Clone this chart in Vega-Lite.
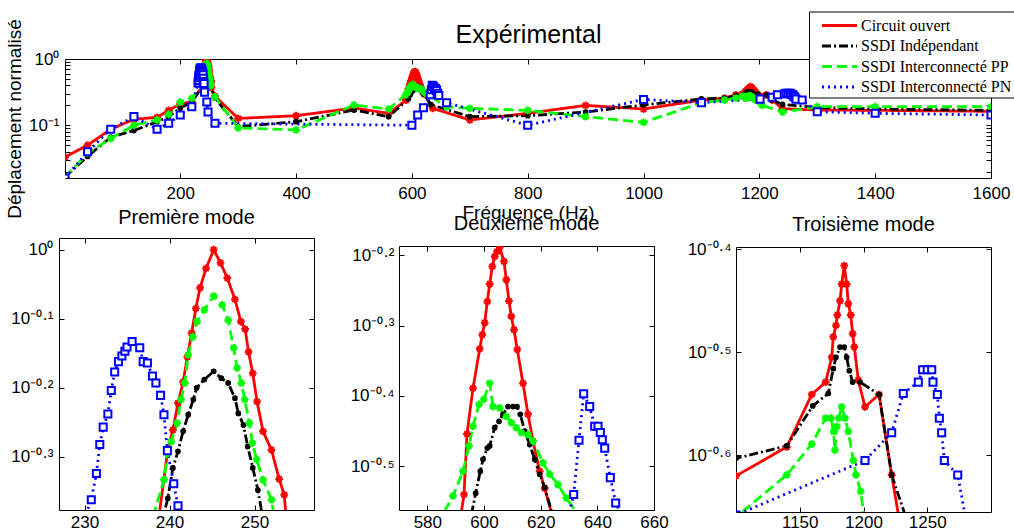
{
  "$schema": "https://vega.github.io/schema/vega-lite/v6.json",
  "background": "white",
  "padding": {"left": 4, "top": 10, "right": 0, "bottom": 0},
  "config": {
    "font": "Liberation Sans",
    "view": {"stroke": "#000000", "strokeWidth": 1},
    "axis": {"domain": false, "grid": false, "tickColor": "#000000", "tickSize": 5, "tickWidth": 1, "offset": -5, "labelFont": "Liberation Sans", "labelFontSize": 17, "labelColor": "#000000", "labelFlush": false, "labelOverlap": false, "titleFont": "Liberation Sans", "titleFontSize": 19, "titleFontWeight": "normal", "titleColor": "#000000"},
    "title": {"font": "Liberation Sans", "fontSize": 20, "fontWeight": "normal", "color": "#000000", "anchor": "middle"}
  },
  "datasets": {
    "d": [
      {"series": "Circuit ouvert", "freq": 1, "depl": 0.0331},
      {"series": "Circuit ouvert", "freq": 40, "depl": 0.0501},
      {"series": "Circuit ouvert", "freq": 80, "depl": 0.0871},
      {"series": "Circuit ouvert", "freq": 120, "depl": 0.123},
      {"series": "Circuit ouvert", "freq": 160, "depl": 0.1318},
      {"series": "Circuit ouvert", "freq": 180, "depl": 0.1679},
      {"series": "Circuit ouvert", "freq": 200, "depl": 0.2089},
      {"series": "Circuit ouvert", "freq": 220, "depl": 0.227},
      {"series": "Circuit ouvert", "freq": 238.5, "depl": 0.389},
      {"series": "Circuit ouvert", "freq": 239.8, "depl": 0.5129},
      {"series": "Circuit ouvert", "freq": 240.4, "depl": 0.5483},
      {"series": "Circuit ouvert", "freq": 241.0, "depl": 0.5998},
      {"series": "Circuit ouvert", "freq": 241.6, "depl": 0.6427},
      {"series": "Circuit ouvert", "freq": 242.1, "depl": 0.6999},
      {"series": "Circuit ouvert", "freq": 242.6, "depl": 0.7568},
      {"series": "Circuit ouvert", "freq": 243.1, "depl": 0.8222},
      {"series": "Circuit ouvert", "freq": 243.6, "depl": 0.881},
      {"series": "Circuit ouvert", "freq": 244.3, "depl": 0.9397},
      {"series": "Circuit ouvert", "freq": 245.2, "depl": 1.0},
      {"series": "Circuit ouvert", "freq": 246.0, "depl": 0.9572},
      {"series": "Circuit ouvert", "freq": 246.8, "depl": 0.9099},
      {"series": "Circuit ouvert", "freq": 247.7, "depl": 0.8472},
      {"series": "Circuit ouvert", "freq": 248.4, "depl": 0.787},
      {"series": "Circuit ouvert", "freq": 248.9, "depl": 0.7674},
      {"series": "Circuit ouvert", "freq": 249.3, "depl": 0.7112},
      {"series": "Circuit ouvert", "freq": 249.8, "depl": 0.6622},
      {"series": "Circuit ouvert", "freq": 250.3, "depl": 0.6026},
      {"series": "Circuit ouvert", "freq": 251.0, "depl": 0.5458},
      {"series": "Circuit ouvert", "freq": 252.0, "depl": 0.5129},
      {"series": "Circuit ouvert", "freq": 252.9, "depl": 0.4656},
      {"series": "Circuit ouvert", "freq": 253.5, "depl": 0.4416},
      {"series": "Circuit ouvert", "freq": 254.0, "depl": 0.3715},
      {"series": "Circuit ouvert", "freq": 260, "depl": 0.2754},
      {"series": "Circuit ouvert", "freq": 300, "depl": 0.1268},
      {"series": "Circuit ouvert", "freq": 400, "depl": 0.1393},
      {"series": "Circuit ouvert", "freq": 500, "depl": 0.182},
      {"series": "Circuit ouvert", "freq": 560, "depl": 0.1514},
      {"series": "Circuit ouvert", "freq": 590, "depl": 0.2399},
      {"series": "Circuit ouvert", "freq": 592.94, "depl": 0.2884},
      {"series": "Circuit ouvert", "freq": 594.0, "depl": 0.3516},
      {"series": "Circuit ouvert", "freq": 596.12, "depl": 0.4083},
      {"series": "Circuit ouvert", "freq": 598.48, "depl": 0.4645},
      {"series": "Circuit ouvert", "freq": 599.4, "depl": 0.4864},
      {"series": "Circuit ouvert", "freq": 600.25, "depl": 0.5058},
      {"series": "Circuit ouvert", "freq": 601.16, "depl": 0.542},
      {"series": "Circuit ouvert", "freq": 602.01, "depl": 0.5741},
      {"series": "Circuit ouvert", "freq": 602.93, "depl": 0.6081},
      {"series": "Circuit ouvert", "freq": 603.78, "depl": 0.6281},
      {"series": "Circuit ouvert", "freq": 604.59, "depl": 0.6383},
      {"series": "Circuit ouvert", "freq": 605.54, "depl": 0.6471},
      {"series": "Circuit ouvert", "freq": 607.06, "depl": 0.618},
      {"series": "Circuit ouvert", "freq": 607.87, "depl": 0.5821},
      {"series": "Circuit ouvert", "freq": 608.82, "depl": 0.5433},
      {"series": "Circuit ouvert", "freq": 609.64, "depl": 0.5164},
      {"series": "Circuit ouvert", "freq": 610.59, "depl": 0.4943},
      {"series": "Circuit ouvert", "freq": 611.75, "depl": 0.4634},
      {"series": "Circuit ouvert", "freq": 613.76, "depl": 0.415},
      {"series": "Circuit ouvert", "freq": 615.53, "depl": 0.375},
      {"series": "Circuit ouvert", "freq": 617.29, "depl": 0.3436},
      {"series": "Circuit ouvert", "freq": 619.66, "depl": 0.3112},
      {"series": "Circuit ouvert", "freq": 621.42, "depl": 0.2944},
      {"series": "Circuit ouvert", "freq": 636, "depl": 0.1799},
      {"series": "Circuit ouvert", "freq": 700, "depl": 0.1202},
      {"series": "Circuit ouvert", "freq": 800, "depl": 0.1514},
      {"series": "Circuit ouvert", "freq": 900, "depl": 0.1995},
      {"series": "Circuit ouvert", "freq": 1000, "depl": 0.1758},
      {"series": "Circuit ouvert", "freq": 1100, "depl": 0.2399},
      {"series": "Circuit ouvert", "freq": 1139.8, "depl": 0.2559},
      {"series": "Circuit ouvert", "freq": 1159.4, "depl": 0.2877},
      {"series": "Circuit ouvert", "freq": 1170.3, "depl": 0.2958},
      {"series": "Circuit ouvert", "freq": 1175.1, "depl": 0.3126},
      {"series": "Circuit ouvert", "freq": 1176.3, "depl": 0.3273},
      {"series": "Circuit ouvert", "freq": 1178.4, "depl": 0.3357},
      {"series": "Circuit ouvert", "freq": 1179.5, "depl": 0.3436},
      {"series": "Circuit ouvert", "freq": 1181.6, "depl": 0.3548},
      {"series": "Circuit ouvert", "freq": 1182.9, "depl": 0.3681},
      {"series": "Circuit ouvert", "freq": 1184.9, "depl": 0.3837},
      {"series": "Circuit ouvert", "freq": 1186.8, "depl": 0.3681},
      {"series": "Circuit ouvert", "freq": 1188.1, "depl": 0.3524},
      {"series": "Circuit ouvert", "freq": 1190.0, "depl": 0.3436},
      {"series": "Circuit ouvert", "freq": 1191.5, "depl": 0.3296},
      {"series": "Circuit ouvert", "freq": 1192.8, "depl": 0.3199},
      {"series": "Circuit ouvert", "freq": 1195.9, "depl": 0.2972},
      {"series": "Circuit ouvert", "freq": 1201.2, "depl": 0.2799},
      {"series": "Circuit ouvert", "freq": 1212.2, "depl": 0.2877},
      {"series": "Circuit ouvert", "freq": 1222.1, "depl": 0.2404},
      {"series": "Circuit ouvert", "freq": 1240, "depl": 0.1778},
      {"series": "Circuit ouvert", "freq": 1300, "depl": 0.1698},
      {"series": "Circuit ouvert", "freq": 1400, "depl": 0.1679},
      {"series": "Circuit ouvert", "freq": 1600, "depl": 0.1622},

      {"series": "SSDI Indépendant", "freq": 1, "depl": 0.0166},
      {"series": "SSDI Indépendant", "freq": 40, "depl": 0.0339},
      {"series": "SSDI Indépendant", "freq": 80, "depl": 0.0661},
      {"series": "SSDI Indépendant", "freq": 120, "depl": 0.0832},
      {"series": "SSDI Indépendant", "freq": 160, "depl": 0.113},
      {"series": "SSDI Indépendant", "freq": 180, "depl": 0.1349},
      {"series": "SSDI Indépendant", "freq": 200, "depl": 0.182},
      {"series": "SSDI Indépendant", "freq": 220, "depl": 0.2239},
      {"series": "SSDI Indépendant", "freq": 239.0, "depl": 0.3981},
      {"series": "SSDI Indépendant", "freq": 239.8, "depl": 0.4365},
      {"series": "SSDI Indépendant", "freq": 240.4, "depl": 0.4831},
      {"series": "SSDI Indépendant", "freq": 241.0, "depl": 0.5105},
      {"series": "SSDI Indépendant", "freq": 241.6, "depl": 0.5458},
      {"series": "SSDI Indépendant", "freq": 242.2, "depl": 0.5768},
      {"series": "SSDI Indépendant", "freq": 242.8, "depl": 0.6067},
      {"series": "SSDI Indépendant", "freq": 243.2, "depl": 0.631},
      {"series": "SSDI Indépendant", "freq": 244.1, "depl": 0.6486},
      {"series": "SSDI Indépendant", "freq": 245.2, "depl": 0.6668},
      {"series": "SSDI Indépendant", "freq": 246.1, "depl": 0.6516},
      {"series": "SSDI Indépendant", "freq": 246.9, "depl": 0.6412},
      {"series": "SSDI Indépendant", "freq": 247.7, "depl": 0.6095},
      {"series": "SSDI Indépendant", "freq": 248.1, "depl": 0.5794},
      {"series": "SSDI Indépendant", "freq": 248.7, "depl": 0.5572},
      {"series": "SSDI Indépendant", "freq": 249.2, "depl": 0.5188},
      {"series": "SSDI Indépendant", "freq": 249.8, "depl": 0.4831},
      {"series": "SSDI Indépendant", "freq": 250.4, "depl": 0.4487},
      {"series": "SSDI Indépendant", "freq": 251.0, "depl": 0.4074},
      {"series": "SSDI Indépendant", "freq": 260, "depl": 0.257},
      {"series": "SSDI Indépendant", "freq": 300, "depl": 0.0955},
      {"series": "SSDI Indépendant", "freq": 400, "depl": 0.113},
      {"series": "SSDI Indépendant", "freq": 500, "depl": 0.1698},
      {"series": "SSDI Indépendant", "freq": 560, "depl": 0.1349},
      {"series": "SSDI Indépendant", "freq": 594, "depl": 0.2512},
      {"series": "SSDI Indépendant", "freq": 597.06, "depl": 0.2897},
      {"series": "SSDI Indépendant", "freq": 598.69, "depl": 0.3112},
      {"series": "SSDI Indépendant", "freq": 599.65, "depl": 0.3236},
      {"series": "SSDI Indépendant", "freq": 601.16, "depl": 0.3357},
      {"series": "SSDI Indépendant", "freq": 602.01, "depl": 0.3381},
      {"series": "SSDI Indépendant", "freq": 603.78, "depl": 0.3589},
      {"series": "SSDI Indépendant", "freq": 605.3, "depl": 0.3664},
      {"series": "SSDI Indépendant", "freq": 606.71, "depl": 0.375},
      {"series": "SSDI Indépendant", "freq": 608.47, "depl": 0.3846},
      {"series": "SSDI Indépendant", "freq": 610.24, "depl": 0.3846},
      {"series": "SSDI Indépendant", "freq": 611.65, "depl": 0.3846},
      {"series": "SSDI Indépendant", "freq": 612.8, "depl": 0.375},
      {"series": "SSDI Indépendant", "freq": 614.36, "depl": 0.3548},
      {"series": "SSDI Indépendant", "freq": 616.12, "depl": 0.3396},
      {"series": "SSDI Indépendant", "freq": 617.89, "depl": 0.3236},
      {"series": "SSDI Indépendant", "freq": 619.66, "depl": 0.3083},
      {"series": "SSDI Indépendant", "freq": 621.42, "depl": 0.2951},
      {"series": "SSDI Indépendant", "freq": 633, "depl": 0.2042},
      {"series": "SSDI Indépendant", "freq": 700, "depl": 0.1349},
      {"series": "SSDI Indépendant", "freq": 800, "depl": 0.1393},
      {"series": "SSDI Indépendant", "freq": 900, "depl": 0.1585},
      {"series": "SSDI Indépendant", "freq": 1000, "depl": 0.2023},
      {"series": "SSDI Indépendant", "freq": 1100, "depl": 0.2495},
      {"series": "SSDI Indépendant", "freq": 1139.8, "depl": 0.2565},
      {"series": "SSDI Indépendant", "freq": 1160.2, "depl": 0.2805},
      {"series": "SSDI Indépendant", "freq": 1172.4, "depl": 0.2884},
      {"series": "SSDI Indépendant", "freq": 1176.3, "depl": 0.3048},
      {"series": "SSDI Indépendant", "freq": 1178.4, "depl": 0.3126},
      {"series": "SSDI Indépendant", "freq": 1181.6, "depl": 0.3199},
      {"series": "SSDI Indépendant", "freq": 1184.9, "depl": 0.3199},
      {"series": "SSDI Indépendant", "freq": 1186.8, "depl": 0.3126},
      {"series": "SSDI Indépendant", "freq": 1188.9, "depl": 0.3034},
      {"series": "SSDI Indépendant", "freq": 1191.5, "depl": 0.2958},
      {"series": "SSDI Indépendant", "freq": 1197.3, "depl": 0.2958},
      {"series": "SSDI Indépendant", "freq": 1212.2, "depl": 0.2877},
      {"series": "SSDI Indépendant", "freq": 1222.1, "depl": 0.2404},
      {"series": "SSDI Indépendant", "freq": 1240, "depl": 0.2065},
      {"series": "SSDI Indépendant", "freq": 1300, "depl": 0.1862},
      {"series": "SSDI Indépendant", "freq": 1400, "depl": 0.1758},
      {"series": "SSDI Indépendant", "freq": 1600, "depl": 0.1679},

      {"series": "SSDI Interconnecté PP", "freq": 1, "depl": 0.0162},
      {"series": "SSDI Interconnecté PP", "freq": 40, "depl": 0.038},
      {"series": "SSDI Interconnecté PP", "freq": 80, "depl": 0.0631},
      {"series": "SSDI Interconnecté PP", "freq": 120, "depl": 0.1},
      {"series": "SSDI Interconnecté PP", "freq": 160, "depl": 0.1202},
      {"series": "SSDI Interconnecté PP", "freq": 180, "depl": 0.1459},
      {"series": "SSDI Interconnecté PP", "freq": 200, "depl": 0.2239},
      {"series": "SSDI Interconnecté PP", "freq": 220, "depl": 0.2547},
      {"series": "SSDI Interconnecté PP", "freq": 238.0, "depl": 0.4074},
      {"series": "SSDI Interconnecté PP", "freq": 239.35, "depl": 0.4645},
      {"series": "SSDI Interconnecté PP", "freq": 239.8, "depl": 0.507},
      {"series": "SSDI Interconnecté PP", "freq": 240.2, "depl": 0.5272},
      {"series": "SSDI Interconnecté PP", "freq": 240.9, "depl": 0.5611},
      {"series": "SSDI Interconnecté PP", "freq": 241.35, "depl": 0.6067},
      {"series": "SSDI Interconnecté PP", "freq": 241.8, "depl": 0.6412},
      {"series": "SSDI Interconnecté PP", "freq": 242.2, "depl": 0.7047},
      {"series": "SSDI Interconnecté PP", "freq": 242.75, "depl": 0.7482},
      {"series": "SSDI Interconnecté PP", "freq": 243.25, "depl": 0.787},
      {"series": "SSDI Interconnecté PP", "freq": 244.1, "depl": 0.8185},
      {"series": "SSDI Interconnecté PP", "freq": 245.2, "depl": 0.857},
      {"series": "SSDI Interconnecté PP", "freq": 246.2, "depl": 0.8318},
      {"series": "SSDI Interconnecté PP", "freq": 246.9, "depl": 0.7907},
      {"series": "SSDI Interconnecté PP", "freq": 247.55, "depl": 0.7211},
      {"series": "SSDI Interconnecté PP", "freq": 247.95, "depl": 0.6745},
      {"series": "SSDI Interconnecté PP", "freq": 248.45, "depl": 0.6412},
      {"series": "SSDI Interconnecté PP", "freq": 248.85, "depl": 0.6067},
      {"series": "SSDI Interconnecté PP", "freq": 249.4, "depl": 0.5611},
      {"series": "SSDI Interconnecté PP", "freq": 249.75, "depl": 0.5248},
      {"series": "SSDI Interconnecté PP", "freq": 250.25, "depl": 0.4966},
      {"series": "SSDI Interconnecté PP", "freq": 251.0, "depl": 0.4645},
      {"series": "SSDI Interconnecté PP", "freq": 252.0, "depl": 0.4345},
      {"series": "SSDI Interconnecté PP", "freq": 252.5, "depl": 0.3981},
      {"series": "SSDI Interconnecté PP", "freq": 260, "depl": 0.2692},
      {"series": "SSDI Interconnecté PP", "freq": 300, "depl": 0.0912},
      {"series": "SSDI Interconnecté PP", "freq": 400, "depl": 0.0851},
      {"series": "SSDI Interconnecté PP", "freq": 500, "depl": 0.2023},
      {"series": "SSDI Interconnecté PP", "freq": 560, "depl": 0.1758},
      {"series": "SSDI Interconnecté PP", "freq": 589.06, "depl": 0.2871},
      {"series": "SSDI Interconnecté PP", "freq": 592.59, "depl": 0.3112},
      {"series": "SSDI Interconnecté PP", "freq": 594.71, "depl": 0.3381},
      {"series": "SSDI Interconnecté PP", "freq": 596.12, "depl": 0.3606},
      {"series": "SSDI Interconnecté PP", "freq": 598.24, "depl": 0.3873},
      {"series": "SSDI Interconnecté PP", "freq": 599.89, "depl": 0.3936},
      {"series": "SSDI Interconnecté PP", "freq": 602.01, "depl": 0.415},
      {"series": "SSDI Interconnecté PP", "freq": 603.18, "depl": 0.3846},
      {"series": "SSDI Interconnecté PP", "freq": 605.54, "depl": 0.3828},
      {"series": "SSDI Interconnecté PP", "freq": 607.87, "depl": 0.3724},
      {"series": "SSDI Interconnecté PP", "freq": 609.64, "depl": 0.3648},
      {"series": "SSDI Interconnecté PP", "freq": 611.4, "depl": 0.3589},
      {"series": "SSDI Interconnecté PP", "freq": 613.16, "depl": 0.3532},
      {"series": "SSDI Interconnecté PP", "freq": 615.53, "depl": 0.3508},
      {"series": "SSDI Interconnecté PP", "freq": 617.29, "depl": 0.3436},
      {"series": "SSDI Interconnecté PP", "freq": 620.82, "depl": 0.3199},
      {"series": "SSDI Interconnecté PP", "freq": 623.18, "depl": 0.3083},
      {"series": "SSDI Interconnecté PP", "freq": 626.12, "depl": 0.2979},
      {"series": "SSDI Interconnecté PP", "freq": 629.06, "depl": 0.2851},
      {"series": "SSDI Interconnecté PP", "freq": 660, "depl": 0.1905},
      {"series": "SSDI Interconnecté PP", "freq": 700, "depl": 0.1799},
      {"series": "SSDI Interconnecté PP", "freq": 800, "depl": 0.1679},
      {"series": "SSDI Interconnecté PP", "freq": 900, "depl": 0.1349},
      {"series": "SSDI Interconnecté PP", "freq": 1000, "depl": 0.1104},
      {"series": "SSDI Interconnecté PP", "freq": 1100, "depl": 0.2188},
      {"series": "SSDI Interconnecté PP", "freq": 1139.8, "depl": 0.2404},
      {"series": "SSDI Interconnecté PP", "freq": 1159.4, "depl": 0.2576},
      {"series": "SSDI Interconnecté PP", "freq": 1170.3, "depl": 0.2729},
      {"series": "SSDI Interconnecté PP", "freq": 1174.5, "depl": 0.2729},
      {"series": "SSDI Interconnecté PP", "freq": 1176.5, "depl": 0.2649},
      {"series": "SSDI Interconnecté PP", "freq": 1177.6, "depl": 0.2541},
      {"series": "SSDI Interconnecté PP", "freq": 1179.0, "depl": 0.2679},
      {"series": "SSDI Interconnecté PP", "freq": 1180.5, "depl": 0.2729},
      {"series": "SSDI Interconnecté PP", "freq": 1182.9, "depl": 0.2799},
      {"series": "SSDI Interconnecté PP", "freq": 1185.5, "depl": 0.2729},
      {"series": "SSDI Interconnecté PP", "freq": 1188.1, "depl": 0.2649},
      {"series": "SSDI Interconnecté PP", "freq": 1192.0, "depl": 0.2483},
      {"series": "SSDI Interconnecté PP", "freq": 1194.1, "depl": 0.2404},
      {"series": "SSDI Interconnecté PP", "freq": 1197.8, "depl": 0.2317},
      {"series": "SSDI Interconnecté PP", "freq": 1205, "depl": 0.1995},
      {"series": "SSDI Interconnecté PP", "freq": 1240, "depl": 0.1585},
      {"series": "SSDI Interconnecté PP", "freq": 1300, "depl": 0.1905},
      {"series": "SSDI Interconnecté PP", "freq": 1400, "depl": 0.1905},
      {"series": "SSDI Interconnecté PP", "freq": 1600, "depl": 0.1905},

      {"series": "SSDI Interconnecté PN", "freq": 1, "depl": 0.016},
      {"series": "SSDI Interconnecté PN", "freq": 40, "depl": 0.0398},
      {"series": "SSDI Interconnecté PN", "freq": 80, "depl": 0.0871},
      {"series": "SSDI Interconnecté PN", "freq": 120, "depl": 0.1349},
      {"series": "SSDI Interconnecté PN", "freq": 160, "depl": 0.0871},
      {"series": "SSDI Interconnecté PN", "freq": 180, "depl": 0.1072},
      {"series": "SSDI Interconnecté PN", "freq": 200, "depl": 0.1426},
      {"series": "SSDI Interconnecté PN", "freq": 220, "depl": 0.1905},
      {"series": "SSDI Interconnecté PN", "freq": 230.8, "depl": 0.4345},
      {"series": "SSDI Interconnecté PN", "freq": 231.4, "depl": 0.4742},
      {"series": "SSDI Interconnecté PN", "freq": 231.8, "depl": 0.5224},
      {"series": "SSDI Interconnecté PN", "freq": 232.2, "depl": 0.5534},
      {"series": "SSDI Interconnecté PN", "freq": 232.75, "depl": 0.5781},
      {"series": "SSDI Interconnecté PN", "freq": 233.15, "depl": 0.6252},
      {"series": "SSDI Interconnecté PN", "freq": 233.55, "depl": 0.6653},
      {"series": "SSDI Interconnecté PN", "freq": 234.0, "depl": 0.6886},
      {"series": "SSDI Interconnecté PN", "freq": 234.4, "depl": 0.7015},
      {"series": "SSDI Interconnecté PN", "freq": 234.75, "depl": 0.7129},
      {"series": "SSDI Interconnecté PN", "freq": 235.0, "depl": 0.7228},
      {"series": "SSDI Interconnecté PN", "freq": 235.6, "depl": 0.7362},
      {"series": "SSDI Interconnecté PN", "freq": 236.5, "depl": 0.7211},
      {"series": "SSDI Interconnecté PN", "freq": 236.9, "depl": 0.6886},
      {"series": "SSDI Interconnecté PN", "freq": 237.4, "depl": 0.6855},
      {"series": "SSDI Interconnecté PN", "freq": 238.0, "depl": 0.6562},
      {"series": "SSDI Interconnecté PN", "freq": 238.4, "depl": 0.6412},
      {"series": "SSDI Interconnecté PN", "freq": 238.95, "depl": 0.6152},
      {"series": "SSDI Interconnecté PN", "freq": 239.35, "depl": 0.5768},
      {"series": "SSDI Interconnecté PN", "freq": 239.75, "depl": 0.5117},
      {"series": "SSDI Interconnecté PN", "freq": 240.5, "depl": 0.4581},
      {"series": "SSDI Interconnecté PN", "freq": 241.0, "depl": 0.4256},
      {"series": "SSDI Interconnecté PN", "freq": 242, "depl": 0.3162},
      {"series": "SSDI Interconnecté PN", "freq": 246, "depl": 0.2239},
      {"series": "SSDI Interconnecté PN", "freq": 248, "depl": 0.1585},
      {"series": "SSDI Interconnecté PN", "freq": 260, "depl": 0.1072},
      {"series": "SSDI Interconnecté PN", "freq": 600, "depl": 0.1},
      {"series": "SSDI Interconnecté PN", "freq": 610, "depl": 0.1426},
      {"series": "SSDI Interconnecté PN", "freq": 620, "depl": 0.1841},
      {"series": "SSDI Interconnecté PN", "freq": 631.65, "depl": 0.2884},
      {"series": "SSDI Interconnecté PN", "freq": 633.53, "depl": 0.3444},
      {"series": "SSDI Interconnecté PN", "freq": 635.18, "depl": 0.4009},
      {"series": "SSDI Interconnecté PN", "freq": 637.3, "depl": 0.3846},
      {"series": "SSDI Interconnecté PN", "freq": 639.07, "depl": 0.3606},
      {"series": "SSDI Interconnecté PN", "freq": 640.24, "depl": 0.3606},
      {"series": "SSDI Interconnecté PN", "freq": 641.05, "depl": 0.3532},
      {"series": "SSDI Interconnecté PN", "freq": 641.76, "depl": 0.3451},
      {"series": "SSDI Interconnecté PN", "freq": 642.6, "depl": 0.3357},
      {"series": "SSDI Interconnecté PN", "freq": 644.58, "depl": 0.3048},
      {"series": "SSDI Interconnecté PN", "freq": 646.47, "depl": 0.2805},
      {"series": "SSDI Interconnecté PN", "freq": 660, "depl": 0.2188},
      {"series": "SSDI Interconnecté PN", "freq": 800, "depl": 0.1},
      {"series": "SSDI Interconnecté PN", "freq": 1000, "depl": 0.2455},
      {"series": "SSDI Interconnecté PN", "freq": 1100, "depl": 0.2198},
      {"series": "SSDI Interconnecté PN", "freq": 1201.2, "depl": 0.2483},
      {"series": "SSDI Interconnecté PN", "freq": 1222.1, "depl": 0.2642},
      {"series": "SSDI Interconnecté PN", "freq": 1231.2, "depl": 0.2884},
      {"series": "SSDI Interconnecté PN", "freq": 1243.0, "depl": 0.2958},
      {"series": "SSDI Interconnecté PN", "freq": 1246.4, "depl": 0.3041},
      {"series": "SSDI Interconnecté PN", "freq": 1250.0, "depl": 0.3041},
      {"series": "SSDI Interconnecté PN", "freq": 1253.5, "depl": 0.3041},
      {"series": "SSDI Interconnecté PN", "freq": 1254.5, "depl": 0.2958},
      {"series": "SSDI Interconnecté PN", "freq": 1257.9, "depl": 0.2877},
      {"series": "SSDI Interconnecté PN", "freq": 1259.5, "depl": 0.2729},
      {"series": "SSDI Interconnecté PN", "freq": 1261.3, "depl": 0.2642},
      {"series": "SSDI Interconnecté PN", "freq": 1263.4, "depl": 0.2483},
      {"series": "SSDI Interconnecté PN", "freq": 1273.9, "depl": 0.2404},
      {"series": "SSDI Interconnecté PN", "freq": 1300, "depl": 0.1603},
      {"series": "SSDI Interconnecté PN", "freq": 1400, "depl": 0.1514},
      {"series": "SSDI Interconnecté PN", "freq": 1600, "depl": 0.1429}
    ]
  },
  "spacing": -16,
  "resolve": {"legend": {"color": "independent", "strokeDash": "independent"}},
  "vconcat": [
    {
      "bounds": "flush",
      "spacing": 0,
      "resolve": {"legend": {"color": "independent", "strokeDash": "independent"}},
      "hconcat": [
        {"width": 6, "height": 119, "view": {"stroke": null}, "data": {"values": [{}]}, "mark": {"type": "point", "opacity": 0}, "encoding": {}},
        {
          "width": 926, "height": 119,
          "data": {"name": "d"},
          "layer": [
            {
              "mark": {"type": "line", "clip": true, "strokeWidth": 2.8},
              "encoding": {
                "x": {"field": "freq", "type": "quantitative", "scale": {"domain": [1, 1600], "nice": false, "zero": false}, "axis": {"orient": "bottom", "values": [200, 400, 600, 800, 1000, 1200, 1400, 1600], "format": "d", "labelPadding": 7, "title": "Fréquence (Hz)", "titlePadding": 2}},
                "y": {"field": "depl", "type": "quantitative", "scale": {"type": "log", "domain": [0.016, 1], "nice": false}, "axis": {"orient": "left", "values": [0.02, 0.03, 0.04, 0.05, 0.06, 0.07, 0.08, 0.09, 0.1, 0.2, 0.3, 0.4, 0.5, 0.6, 0.7, 0.8, 0.9, 1], "labelExpr": "datum.value == 1 ? '10⁰' : (datum.value == 0.1 ? '10⁻¹' : '')", "labelPadding": 6, "title": "Déplacement normalisé", "titlePadding": 4}},
                "color": {"field": "series", "type": "nominal", "scale": {"domain": ["Circuit ouvert", "SSDI Indépendant", "SSDI Interconnecté PP", "SSDI Interconnecté PN"], "range": ["#ff0000", "#000000", "#00ff00", "#0000ff"]}, "legend": {"title": null, "orient": "none", "legendX": 744, "legendY": -47.5, "symbolType": "M-1.75,0L1.75,0", "symbolSize": 400, "symbolOffset": 16.5, "symbolStrokeWidth": 2.8, "labelFont": "Liberation Serif", "labelFontSize": 16, "labelColor": "#000000", "fillColor": "#ffffff", "strokeColor": "#000000", "padding": 2.5, "rowPadding": 0.5, "labelOffset": 10, "labelLimit": 400}},
                "strokeDash": {"field": "series", "type": "nominal", "scale": {"domain": ["Circuit ouvert", "SSDI Indépendant", "SSDI Interconnecté PP", "SSDI Interconnecté PN"], "range": [[1, 0], [9, 3, 2, 3], [10, 5], [2, 4]]}, "legend": {"title": null, "orient": "none", "legendX": 744, "legendY": -47.5, "symbolType": "M-1.75,0L1.75,0", "symbolSize": 400, "symbolOffset": 16.5, "symbolStrokeWidth": 2.8, "labelFont": "Liberation Serif", "labelFontSize": 16, "labelColor": "#000000", "fillColor": "#ffffff", "strokeColor": "#000000", "padding": 2.5, "rowPadding": 0.5, "labelOffset": 10, "labelLimit": 400}}
              }
            },
            {
              "mark": {"type": "point", "clip": true, "opacity": 1, "strokeWidth": 2},
              "encoding": {
                "x": {"field": "freq", "type": "quantitative", "scale": {"domain": [1, 1600], "nice": false, "zero": false}, "axis": {"orient": "top", "values": [200, 400, 600, 800, 1000, 1200, 1400, 1600], "labels": false, "title": "Expérimental", "titleFontSize": 25, "titlePadding": 11}},
                "y": {"field": "depl", "type": "quantitative", "scale": {"type": "log", "domain": [0.016, 1], "nice": false}, "axis": {"orient": "right", "values": [0.02, 0.03, 0.04, 0.05, 0.06, 0.07, 0.08, 0.09, 0.1, 0.2, 0.3, 0.4, 0.5, 0.6, 0.7, 0.8, 0.9, 1], "labels": false, "title": null}},
                "shape": {"field": "series", "type": "nominal", "legend": null, "scale": {"domain": ["Circuit ouvert", "SSDI Indépendant", "SSDI Interconnecté PP", "SSDI Interconnecté PN"], "range": ["M-1,0L1,0M0,-1L0,1M-0.7,-0.7L0.7,0.7M-0.7,0.7L0.7,-0.7", "circle", "M-1,0L1,0M0,-1L0,1M-0.7,-0.7L0.7,0.7M-0.7,0.7L0.7,-0.7", "square"]}},
                "size": {"field": "series", "type": "nominal", "legend": null, "scale": {"type": "ordinal", "domain": ["Circuit ouvert", "SSDI Indépendant", "SSDI Interconnecté PP", "SSDI Interconnecté PN"], "range": [60, 14, 60, 50]}},
                "stroke": {"field": "series", "type": "nominal", "legend": null, "scale": {"domain": ["Circuit ouvert", "SSDI Indépendant", "SSDI Interconnecté PP", "SSDI Interconnecté PN"], "range": ["#ff0000", "#000000", "#00ff00", "#0000ff"]}},
                "fill": {"field": "series", "type": "nominal", "legend": null, "scale": {"domain": ["Circuit ouvert", "SSDI Indépendant", "SSDI Interconnecté PP", "SSDI Interconnecté PN"], "range": ["transparent", "#000000", "transparent", "#ffffff"]}}
              }
            }
          ],
          "resolve": {"axis": {"x": "independent", "y": "independent"}}
        }
      ]
    },
    {
      "spacing": 34,
      "hconcat": [
        {
          "width": 255, "height": 272,
          "data": {"name": "d"},
          "title": {"text": "Première mode", "offset": 10},
          "layer": [
            {
              "mark": {"type": "line", "clip": true, "strokeWidth": 2.8},
              "encoding": {
                "x": {"field": "freq", "type": "quantitative", "scale": {"domain": [227, 257], "nice": false, "zero": false}, "axis": {"orient": "bottom", "values": [230, 240, 250], "format": "d", "labelPadding": 4, "title": null}},
                "y": {"field": "depl", "type": "quantitative", "scale": {"type": "log", "domain": [0.4198, 1.0399], "nice": false}, "axis": {"orient": "left", "values": [1, 0.7943282347242815, 0.6309573444801932, 0.5011872336272722], "labelExpr": "'10' + (datum.value > 0.999 ? '⁰' : '⁻⁰·' + ['⁰','¹','²','³','⁴','⁵','⁶','⁷','⁸','⁹'][round(-log(datum.value) / LN10 * 10)])", "labelPadding": 6, "title": null}},
                "color": {"field": "series", "type": "nominal", "legend": null, "scale": {"domain": ["Circuit ouvert", "SSDI Indépendant", "SSDI Interconnecté PP", "SSDI Interconnecté PN"], "range": ["#ff0000", "#000000", "#00ff00", "#0000ff"]}},
                "strokeDash": {"field": "series", "type": "nominal", "legend": null, "scale": {"domain": ["Circuit ouvert", "SSDI Indépendant", "SSDI Interconnecté PP", "SSDI Interconnecté PN"], "range": [[1, 0], [9, 3, 2, 3], [10, 5], [2, 4]]}}
              }
            },
            {
              "mark": {"type": "point", "clip": true, "opacity": 1, "strokeWidth": 2},
              "encoding": {
                "x": {"field": "freq", "type": "quantitative", "scale": {"domain": [227, 257], "nice": false, "zero": false}, "axis": {"orient": "top", "values": [230, 240, 250], "labels": false, "title": null}},
                "y": {"field": "depl", "type": "quantitative", "scale": {"type": "log", "domain": [0.4198, 1.0399], "nice": false}, "axis": {"orient": "right", "values": [1, 0.7943282347242815, 0.6309573444801932, 0.5011872336272722], "labels": false, "title": null}},
                "shape": {"field": "series", "type": "nominal", "legend": null, "scale": {"domain": ["Circuit ouvert", "SSDI Indépendant", "SSDI Interconnecté PP", "SSDI Interconnecté PN"], "range": ["M-1,0L1,0M0,-1L0,1M-0.7,-0.7L0.7,0.7M-0.7,0.7L0.7,-0.7", "circle", "M-1,0L1,0M0,-1L0,1M-0.7,-0.7L0.7,0.7M-0.7,0.7L0.7,-0.7", "square"]}},
                "size": {"field": "series", "type": "nominal", "legend": null, "scale": {"type": "ordinal", "domain": ["Circuit ouvert", "SSDI Indépendant", "SSDI Interconnecté PP", "SSDI Interconnecté PN"], "range": [60, 14, 60, 50]}},
                "stroke": {"field": "series", "type": "nominal", "legend": null, "scale": {"domain": ["Circuit ouvert", "SSDI Indépendant", "SSDI Interconnecté PP", "SSDI Interconnecté PN"], "range": ["#ff0000", "#000000", "#00ff00", "#0000ff"]}},
                "fill": {"field": "series", "type": "nominal", "legend": null, "scale": {"domain": ["Circuit ouvert", "SSDI Indépendant", "SSDI Interconnecté PP", "SSDI Interconnecté PN"], "range": ["transparent", "#000000", "transparent", "#ffffff"]}}
              }
            }
          ],
          "resolve": {"axis": {"x": "independent", "y": "independent"}}
        },
        {
          "spacing": 17,
          "hconcat": [
            {
              "bounds": "flush",
              "spacing": 0,
              "vconcat": [
                {"width": 255, "height": 8, "view": {"stroke": null}, "data": {"values": [{}]}, "mark": {"type": "point", "opacity": 0}, "encoding": {}},
                {
                  "width": 255, "height": 264,
                  "data": {"name": "d"},
                  "title": {"text": "Deuxieme mode", "offset": 12},
                  "layer": [
                    {
                      "mark": {"type": "line", "clip": true, "strokeWidth": 2.8},
                      "encoding": {
                        "x": {"field": "freq", "type": "quantitative", "scale": {"domain": [570, 660], "nice": false, "zero": false}, "axis": {"orient": "bottom", "values": [580, 600, 620, 640, 660], "format": "d", "labelPadding": 4, "title": null}},
                        "y": {"field": "depl", "type": "quantitative", "scale": {"type": "log", "domain": [0.2742, 0.6501], "nice": false}, "axis": {"orient": "left", "values": [0.6309573444801932, 0.5011872336272722, 0.3981071705534972, 0.31622776601683794], "labelExpr": "'10' + (datum.value > 0.999 ? '⁰' : '⁻⁰·' + ['⁰','¹','²','³','⁴','⁵','⁶','⁷','⁸','⁹'][round(-log(datum.value) / LN10 * 10)])", "labelPadding": 5, "title": null}},
                        "color": {"field": "series", "type": "nominal", "legend": null, "scale": {"domain": ["Circuit ouvert", "SSDI Indépendant", "SSDI Interconnecté PP", "SSDI Interconnecté PN"], "range": ["#ff0000", "#000000", "#00ff00", "#0000ff"]}},
                        "strokeDash": {"field": "series", "type": "nominal", "legend": null, "scale": {"domain": ["Circuit ouvert", "SSDI Indépendant", "SSDI Interconnecté PP", "SSDI Interconnecté PN"], "range": [[1, 0], [9, 3, 2, 3], [10, 5], [2, 4]]}}
                      }
                    },
                    {
                      "mark": {"type": "point", "clip": true, "opacity": 1, "strokeWidth": 2},
                      "encoding": {
                        "x": {"field": "freq", "type": "quantitative", "scale": {"domain": [570, 660], "nice": false, "zero": false}, "axis": {"orient": "top", "values": [580, 600, 620, 640, 660], "labels": false, "title": null}},
                        "y": {"field": "depl", "type": "quantitative", "scale": {"type": "log", "domain": [0.2742, 0.6501], "nice": false}, "axis": {"orient": "right", "values": [0.6309573444801932, 0.5011872336272722, 0.3981071705534972, 0.31622776601683794], "labels": false, "title": null}},
                        "shape": {"field": "series", "type": "nominal", "legend": null, "scale": {"domain": ["Circuit ouvert", "SSDI Indépendant", "SSDI Interconnecté PP", "SSDI Interconnecté PN"], "range": ["M-1,0L1,0M0,-1L0,1M-0.7,-0.7L0.7,0.7M-0.7,0.7L0.7,-0.7", "circle", "M-1,0L1,0M0,-1L0,1M-0.7,-0.7L0.7,0.7M-0.7,0.7L0.7,-0.7", "square"]}},
                        "size": {"field": "series", "type": "nominal", "legend": null, "scale": {"type": "ordinal", "domain": ["Circuit ouvert", "SSDI Indépendant", "SSDI Interconnecté PP", "SSDI Interconnecté PN"], "range": [60, 14, 60, 50]}},
                        "stroke": {"field": "series", "type": "nominal", "legend": null, "scale": {"domain": ["Circuit ouvert", "SSDI Indépendant", "SSDI Interconnecté PP", "SSDI Interconnecté PN"], "range": ["#ff0000", "#000000", "#00ff00", "#0000ff"]}},
                        "fill": {"field": "series", "type": "nominal", "legend": null, "scale": {"domain": ["Circuit ouvert", "SSDI Indépendant", "SSDI Interconnecté PP", "SSDI Interconnecté PN"], "range": ["transparent", "#000000", "transparent", "#ffffff"]}}
                      }
                    }
                  ],
                  "resolve": {"axis": {"x": "independent", "y": "independent"}}
                }
              ]
            },
            {
              "bounds": "flush",
              "spacing": 0,
              "vconcat": [
                {"width": 255, "height": 9, "view": {"stroke": null}, "data": {"values": [{}]}, "mark": {"type": "point", "opacity": 0}, "encoding": {}},
                {
                  "width": 255, "height": 265,
                  "data": {"name": "d"},
                  "title": {"text": "Troisième mode", "offset": 5},
                  "layer": [
                    {
                      "mark": {"type": "line", "clip": true, "strokeWidth": 2.8},
                      "encoding": {
                        "x": {"field": "freq", "type": "quantitative", "scale": {"domain": [1100, 1300], "nice": false, "zero": false}, "axis": {"orient": "bottom", "values": [1150, 1200, 1250], "format": "d", "labelPadding": 2, "title": null}},
                        "y": {"field": "depl", "type": "quantitative", "scale": {"type": "log", "domain": [0.2213, 0.4], "nice": false}, "axis": {"orient": "left", "values": [0.3981071705534972, 0.31622776601683794, 0.251188643150958], "labelExpr": "'10' + (datum.value > 0.999 ? '⁰' : '⁻⁰·' + ['⁰','¹','²','³','⁴','⁵','⁶','⁷','⁸','⁹'][round(-log(datum.value) / LN10 * 10)])", "labelPadding": 5, "title": null}},
                        "color": {"field": "series", "type": "nominal", "legend": null, "scale": {"domain": ["Circuit ouvert", "SSDI Indépendant", "SSDI Interconnecté PP", "SSDI Interconnecté PN"], "range": ["#ff0000", "#000000", "#00ff00", "#0000ff"]}},
                        "strokeDash": {"field": "series", "type": "nominal", "legend": null, "scale": {"domain": ["Circuit ouvert", "SSDI Indépendant", "SSDI Interconnecté PP", "SSDI Interconnecté PN"], "range": [[1, 0], [9, 3, 2, 3], [10, 5], [2, 4]]}}
                      }
                    },
                    {
                      "mark": {"type": "point", "clip": true, "opacity": 1, "strokeWidth": 2},
                      "encoding": {
                        "x": {"field": "freq", "type": "quantitative", "scale": {"domain": [1100, 1300], "nice": false, "zero": false}, "axis": {"orient": "top", "values": [1150, 1200, 1250], "labels": false, "title": null}},
                        "y": {"field": "depl", "type": "quantitative", "scale": {"type": "log", "domain": [0.2213, 0.4], "nice": false}, "axis": {"orient": "right", "values": [0.3981071705534972, 0.31622776601683794, 0.251188643150958], "labels": false, "title": null}},
                        "shape": {"field": "series", "type": "nominal", "legend": null, "scale": {"domain": ["Circuit ouvert", "SSDI Indépendant", "SSDI Interconnecté PP", "SSDI Interconnecté PN"], "range": ["M-1,0L1,0M0,-1L0,1M-0.7,-0.7L0.7,0.7M-0.7,0.7L0.7,-0.7", "circle", "M-1,0L1,0M0,-1L0,1M-0.7,-0.7L0.7,0.7M-0.7,0.7L0.7,-0.7", "square"]}},
                        "size": {"field": "series", "type": "nominal", "legend": null, "scale": {"type": "ordinal", "domain": ["Circuit ouvert", "SSDI Indépendant", "SSDI Interconnecté PP", "SSDI Interconnecté PN"], "range": [60, 14, 60, 50]}},
                        "stroke": {"field": "series", "type": "nominal", "legend": null, "scale": {"domain": ["Circuit ouvert", "SSDI Indépendant", "SSDI Interconnecté PP", "SSDI Interconnecté PN"], "range": ["#ff0000", "#000000", "#00ff00", "#0000ff"]}},
                        "fill": {"field": "series", "type": "nominal", "legend": null, "scale": {"domain": ["Circuit ouvert", "SSDI Indépendant", "SSDI Interconnecté PP", "SSDI Interconnecté PN"], "range": ["transparent", "#000000", "transparent", "#ffffff"]}}
                      }
                    }
                  ],
                  "resolve": {"axis": {"x": "independent", "y": "independent"}}
                }
              ]
            }
          ]
        }
      ]
    }
  ]
}
